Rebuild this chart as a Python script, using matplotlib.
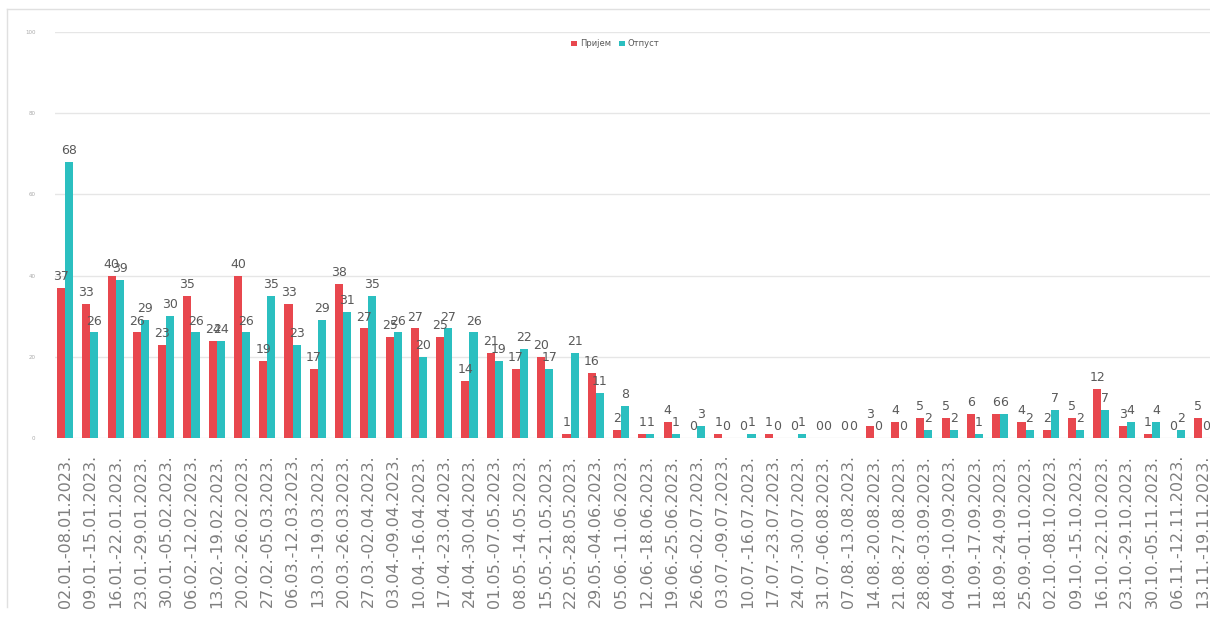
import matplotlib
matplotlib.use('Agg')
import matplotlib.pyplot as plt
import numpy as np

weeks = [
    '02.01.-08.01.2023.', '09.01.-15.01.2023.', '16.01.-22.01.2023.', '23.01.-29.01.2023.',
    '30.01.-05.02.2023.', '06.02.-12.02.2023.', '13.02.-19.02.2023.', '20.02.-26.02.2023.',
    '27.02.-05.03.2023.', '06.03.-12.03.2023.', '13.03.-19.03.2023.', '20.03.-26.03.2023.',
    '27.03.-02.04.2023.', '03.04.-09.04.2023.', '10.04.-16.04.2023.', '17.04.-23.04.2023.',
    '24.04.-30.04.2023.', '01.05.-07.05.2023.', '08.05.-14.05.2023.', '15.05.-21.05.2023.',
    '22.05.-28.05.2023.', '29.05.-04.06.2023.', '05.06.-11.06.2023.', '12.06.-18.06.2023.',
    '19.06.-25.06.2023.', '26.06.-02.07.2023.', '03.07.-09.07.2023.', '10.07.-16.07.2023.',
    '17.07.-23.07.2023.', '24.07.-30.07.2023.', '31.07.-06.08.2023.', '07.08.-13.08.2023.',
    '14.08.-20.08.2023.', '21.08.-27.08.2023.', '28.08.-03.09.2023.', '04.09.-10.09.2023.',
    '11.09.-17.09.2023.', '18.09.-24.09.2023.', '25.09.-01.10.2023.', '02.10.-08.10.2023.',
    '09.10.-15.10.2023.', '16.10.-22.10.2023.', '23.10.-29.10.2023.', '30.10.-05.11.2023.',
    '06.11.-12.11.2023.', '13.11.-19.11.2023.',
]

prijem = [37, 33, 40, 26, 23, 35, 24, 40, 19, 33, 17, 38, 27, 25, 27, 25, 14, 21, 17, 20,
          1, 16, 2, 1, 4, 0, 1, 0, 1, 0, 0, 0, 3, 4, 5, 5, 6, 6, 4, 2, 5, 12, 3, 1, 0, 5]
otpust = [68, 26, 39, 29, 30, 26, 24, 26, 35, 23, 29, 31, 35, 26, 20, 27, 26, 19, 22, 17,
          21, 11, 8, 1, 1, 3, 0, 1, 0, 1, 0, 0, 0, 0, 2, 2, 1, 6, 2, 7, 2, 7, 4, 4, 2, 0]

red = '#E8474E'
teal = '#2BBFC0'
label_col = '#595959'

fig = plt.figure(figsize=(12.1, 6.19), dpi=100)
ax = fig.add_axes([55 / 1210, (619 - 438) / 619, 1 - 55 / 1210, (438 - 32) / 619])

x = np.arange(len(weeks))
w = 0.32
b1 = ax.bar(x - w / 2, prijem, w, color=red, label='Пријем', zorder=3)
b2 = ax.bar(x + w / 2, otpust, w, color=teal, label='Отпуст', zorder=3)

for bars, vals in ((b1, prijem), (b2, otpust)):
    for rect, v in zip(bars, vals):
        ax.text(rect.get_x() + rect.get_width() / 2, v + 1.2, str(v),
                ha='center', va='bottom', fontsize=9, color=label_col)

ax.set_xlim(-0.4, 45.3)
ax.set_ylim(0, 100)
ax.set_yticks([0, 20, 40, 60, 80, 100])
ax.tick_params(axis='y', labelsize=4, colors='#aaaaaa', length=0, pad=14)
ax.set_xticks(x)
ax.set_xticklabels(weeks, rotation=90, fontsize=11.5, color='#7f7f7f')
ax.tick_params(axis='x', length=0, pad=12)
ax.grid(axis='y', color='#e6e6e6', linewidth=1, zorder=0)
for s in ax.spines.values():
    s.set_visible(False)

ax.legend(loc='upper center', bbox_to_anchor=(0.485, 1.0), ncol=2, frameon=False,
          fontsize=6, handlelength=0.7, handleheight=0.7, columnspacing=1.0,
          handletextpad=0.3, labelcolor='#595959')

# light frame of the original chart area
fig.add_artist(plt.Line2D([7 / 1210, 7 / 1210], [0.02, 1 - 9 / 619], color='#e0e0e0', lw=1))
fig.add_artist(plt.Line2D([7 / 1210, 1.0], [1 - 9 / 619, 1 - 9 / 619], color='#e0e0e0', lw=1))

fig.savefig('out.png', dpi=100)
